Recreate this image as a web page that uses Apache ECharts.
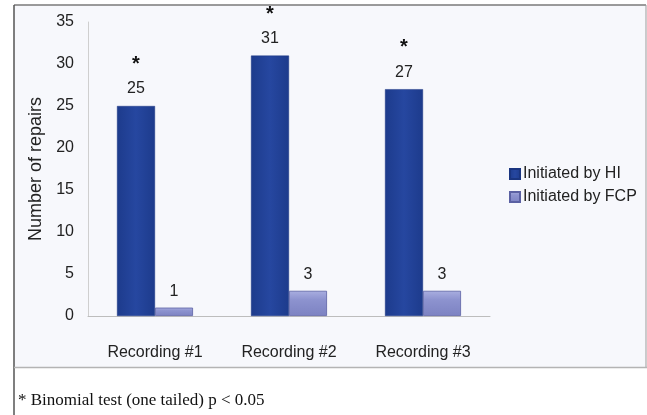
<!DOCTYPE html>
<html>
<head>
<meta charset="utf-8">
<script src="https://cdn.jsdelivr.net/npm/echarts@6/dist/echarts.min.js"></script>
<style>
  html, body { margin: 0; padding: 0; background: #fff; }
  #chart { width: 647px; height: 415px; }
</style>
</head>
<body>
<div id="chart"></div>
<script>
// data
const categories = ['Recording #1', 'Recording #2', 'Recording #3'];
const byHI = [25, 31, 27];
const byFCP = [1, 3, 3];
const significant = [true, true, true]; // marked with * (binomial test)
const yTicks = { min: 0, max: 35, interval: 5 };

const chart = echarts.init(document.getElementById('chart'));

const hiColor = new echarts.graphic.LinearGradient(0, 0, 1, 0, [
  { offset: 0, color: '#1d3b8c' },
  { offset: 0.5, color: '#2647a0' },
  { offset: 1, color: '#1d3b8c' }
]);
const fcpColor = new echarts.graphic.LinearGradient(0, 0, 0, 1, [
  { offset: 0, color: '#a9aee0' },
  { offset: 0.35, color: '#8d93cf' },
  { offset: 1, color: '#7c82c2' }
]);

chart.setOption({
  animation: false,
  textStyle: { fontFamily: 'Liberation Sans, Arial, sans-serif' },
  graphic: [
    { type: 'rect', shape: { x: 14, y: 5, width: 632, height: 362 }, style: { fill: '#f7f8fc' }, silent: true, z: -10 },
    { type: 'line', shape: { x1: 14, y1: 5, x2: 646, y2: 5 }, style: { stroke: '#7a7a7a', lineWidth: 1.5 }, silent: true },
    { type: 'line', shape: { x1: 14, y1: 5, x2: 14, y2: 415 }, style: { stroke: '#555', lineWidth: 1.5 }, silent: true },
    { type: 'line', shape: { x1: 646, y1: 5, x2: 646, y2: 367 }, style: { stroke: '#9a9a9a', lineWidth: 1 }, silent: true },
    { type: 'line', shape: { x1: 14, y1: 367.5, x2: 647, y2: 367.5 }, style: { stroke: '#b4b4b4', lineWidth: 1.5 }, silent: true },
    {
      type: 'text', left: 18, top: 392,
      style: { text: '* Binomial test (one tailed) p < 0.05', font: '17px "Liberation Serif", "Times New Roman", serif', fill: '#111' }
    }
  ],
  legend: {
    orient: 'vertical',
    left: 504,
    top: 161,
    itemWidth: 10,
    itemHeight: 10,
    itemGap: 7,
    icon: 'rect',
    textStyle: { fontSize: 16, color: '#222', padding: [0, 0, 0, -2] },
    data: ['Initiated by HI', 'Initiated by FCP']
  },
  grid: { left: 88, right: 157, top: 22, bottom: 99 },
  xAxis: {
    type: 'category',
    data: categories,
    axisTick: { show: false },
    axisLine: { lineStyle: { color: '#bdbdbd', width: 1 } },
    axisLabel: { color: '#222', fontSize: 16, margin: 29 }
  },
  yAxis: {
    type: 'value',
    min: yTicks.min,
    max: yTicks.max,
    interval: yTicks.interval,
    name: 'Number of repairs',
    nameLocation: 'middle',
    nameGap: 40,
    nameTextStyle: { fontSize: 18, color: '#222' },
    axisLine: { show: true, lineStyle: { color: '#cfcfcf' } },
    axisTick: { show: false },
    splitLine: { show: false },
    axisLabel: { color: '#222', fontSize: 16, margin: 14 }
  },
  series: [{
    name: 'Initiated by HI',
    type: 'bar',
    barWidth: 38,
    barGap: '0%',
    itemStyle: { color: hiColor, borderColor: '#1a3580', borderWidth: 0.5 },
    label: {
      show: true,
      position: 'top',
      distance: 8,
      formatter: p => (significant[p.dataIndex] ? '{a|*}\n' : '') + '{v|' + p.value + '}',
      rich: {
        a: { fontSize: 20, fontWeight: 'bold', color: '#111', lineHeight: 31 },
        v: { fontSize: 16, color: '#222', lineHeight: 18 }
      }
    },
    data: byHI
  }, {
    name: 'Initiated by FCP',
    type: 'bar',
    barWidth: 38,
    itemStyle: { color: fcpColor, borderColor: '#5b61a3', borderWidth: 0.8 },
    label: { show: true, position: 'top', distance: 8, fontSize: 16, color: '#222' },
    data: byFCP
  }]
});
</script>
</body>
</html>
